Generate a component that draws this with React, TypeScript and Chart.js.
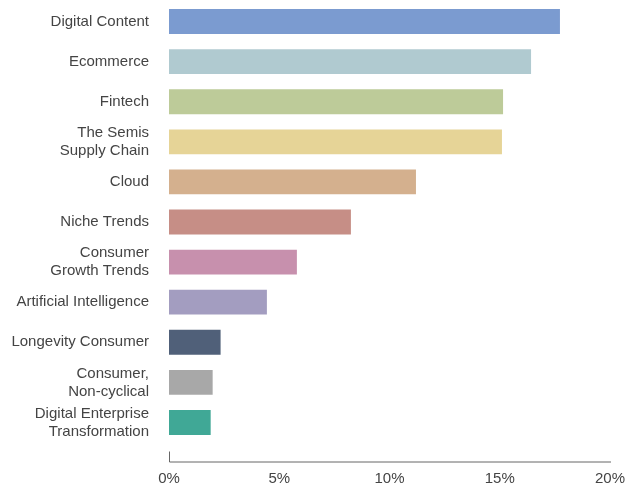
import React, { useEffect, useRef } from "react";
import { Chart, registerables } from "chart.js";

Chart.register(...registerables);

const categories: (string | string[])[] = [
  "Digital Content",
  "Ecommerce",
  "Fintech",
  ["The Semis", "Supply Chain"],
  "Cloud",
  "Niche Trends",
  ["Consumer", "Growth Trends"],
  "Artificial Intelligence",
  "Longevity Consumer",
  ["Consumer,", "Non-cyclical"],
  ["Digital Enterprise", "Transformation"],
];

const values = [17.73, 16.42, 15.15, 15.1, 11.2, 8.25, 5.8, 4.44, 2.34, 1.98, 1.89];

const barColors = [
  "#7b9bd0",
  "#b0cad0",
  "#bdcb99",
  "#e6d497",
  "#d4b08e",
  "#c68e86",
  "#c790ad",
  "#a39dc0",
  "#506079",
  "#a8a8a8",
  "#40a896",
];

const xTickValues = [0, 5, 10, 15, 20];

const axisLinePlugin = {
  id: "axisLine",
  afterDraw(chart: any) {
    const x = chart.scales.x;
    const ctx = chart.ctx;
    const y = chart.chartArea.bottom + 19;
    const x0 = x.getPixelForValue(xTickValues[0]);
    const x1 = x.getPixelForValue(xTickValues[xTickValues.length - 1]);
    ctx.save();
    ctx.strokeStyle = "#666666";
    ctx.lineWidth = 1;
    ctx.beginPath();
    ctx.moveTo(Math.round(x0) + 0.5, y - 10);
    ctx.lineTo(Math.round(x0) + 0.5, y + 0.5);
    ctx.lineTo(x1 + 1, y + 0.5);
    ctx.stroke();
    ctx.restore();
  },
};

export default function App() {
  const ref = useRef<HTMLCanvasElement>(null);

  useEffect(() => {
    document.body.style.margin = "0";
    const chart = new Chart(ref.current!, {
      type: "bar",
      data: {
        labels: categories as any,
        datasets: [
          {
            data: values,
            backgroundColor: barColors,
            borderWidth: 0,
            barPercentage: 0.62,
            categoryPercentage: 1,
          },
        ],
      },
      options: {
        indexAxis: "y",
        animation: false,
        responsive: true,
        maintainAspectRatio: false,
        layout: { padding: { top: 1.5, right: 16, bottom: 0.5, left: 0 } },
        plugins: {
          legend: { display: false },
          tooltip: { enabled: false },
        },
        scales: {
          x: {
            type: "linear",
            min: 0,
            max: 20,
            afterBuildTicks: (axis: any) => {
              axis.ticks = xTickValues.map((v) => ({ value: v }));
            },
            afterFit: (axis: any) => {
              axis.paddingLeft = 0;
              axis.paddingRight = 0;
              axis.height = 46;
            },
            grid: { display: false, drawTicks: false },
            border: { display: false },
            ticks: {
              padding: 27,
              color: "#444444",
              font: { family: "'Liberation Sans', Arial, sans-serif", size: 15 },
              callback: (v: any) => v + "%",
              maxRotation: 0,
              autoSkip: false,
            },
          },
          y: {
            grid: { display: false, drawTicks: false },
            border: { display: false },
            afterFit: (axis: any) => {
              axis.width = 169;
              axis.paddingTop = 0;
              axis.paddingBottom = 0;
            },
            ticks: {
              padding: 20,
              autoSkip: false,
              color: "#444444",
              font: { family: "'Liberation Sans', Arial, sans-serif", size: 15, lineHeight: 1.2 },
            },
          },
        },
      },
      plugins: [axisLinePlugin],
    });
    return () => chart.destroy();
  }, []);

  return (
    <div style={{ position: "absolute", left: 0, top: 0, width: 626, height: 489 }}>
      <canvas ref={ref} />
    </div>
  );
}
